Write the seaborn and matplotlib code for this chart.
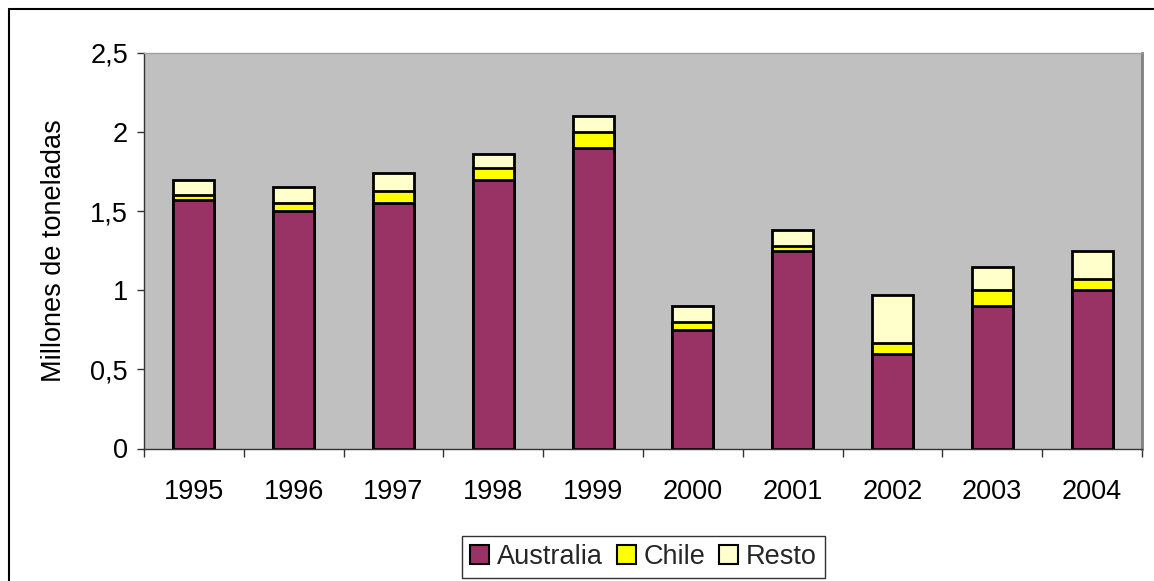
import matplotlib
matplotlib.use("Agg")
import matplotlib.pyplot as plt
from matplotlib.patches import Patch
from matplotlib.lines import Line2D
import numpy as np
import pandas as pd
import seaborn as sns

# Annual tonnage by origin (millions of tonnes)
years = ["1995", "1996", "1997", "1998", "1999", "2000", "2001", "2002", "2003", "2004"]
australia = [1.57, 1.50, 1.55, 1.70, 1.90, 0.75, 1.25, 0.60, 0.90, 1.00]
chile = [0.03, 0.05, 0.08, 0.07, 0.10, 0.05, 0.03, 0.065, 0.10, 0.07]
resto = [0.10, 0.10, 0.11, 0.09, 0.10, 0.10, 0.10, 0.305, 0.15, 0.18]

series_names = ["Australia", "Chile", "Resto"]
series_colors = ["#993366", "#FFFF00", "#FFFFCC"]
y_ticks = [0, 0.5, 1, 1.5, 2, 2.5]
y_tick_labels = ["0", "0,5", "1", "1,5", "2", "2,5"]

df = pd.DataFrame({"Año": years, "Australia": australia, "Chile": chile, "Resto": resto})
df["cum_aus"] = df["Australia"]
df["cum_chile"] = df["cum_aus"] + df["Chile"]
df["cum_resto"] = df["cum_chile"] + df["Resto"]

sns.set_theme(style="white")
plt.rcParams["font.family"] = ["Liberation Sans", "DejaVu Sans"]
FS = 19.5

fig = plt.figure(figsize=(11.54, 5.81), dpi=100)
ax = fig.add_axes([144 / 1154, 1 - 448.5 / 581, (1142 - 144) / 1154, (448.5 - 53) / 581])
ax.set_facecolor("#C0C0C0")

# Stacked bars: draw cumulative heights from the tallest down
for col, color in zip(["cum_resto", "cum_chile", "cum_aus"], series_colors[::-1]):
    sns.barplot(data=df, x="Año", y=col, color=color, width=0.41,
                edgecolor="black", linewidth=2.0, saturation=1, ax=ax, zorder=2)

ax.set_xlim(-0.5, len(years) - 0.5)
ax.set_ylim(0, 2.5)
ax.set_yticks(y_ticks)
ax.set_yticklabels(y_tick_labels)
ax.set_xlabel("")
ax.set_ylabel("Millones de toneladas", fontsize=FS, labelpad=17, color="black")

# Category ticks sit between the bars
ax.set_xticks(np.arange(len(years)))
ax.set_xticklabels(years)
ax.set_xticks(np.arange(-0.5, len(years)), minor=True)
ax.tick_params(axis="x", which="major", length=0, pad=22, labelsize=FS, labelcolor="black")
ax.tick_params(axis="x", which="minor", length=5.8, width=1, color="#333333", direction="out", bottom=True)
ax.tick_params(axis="y", which="major", length=5, width=1, color="#333333", direction="out",
               left=True, pad=6.5, labelsize=FS, labelcolor="black")

for side in ["left", "bottom"]:
    ax.spines[side].set_color("#333333")
    ax.spines[side].set_linewidth(1.0)
ax.spines["top"].set_color("#A0A0A0")
ax.spines["top"].set_linewidth(1.0)
ax.spines["right"].set_color("#808080")
ax.spines["right"].set_linewidth(2.0)

handles = [Patch(facecolor=c, edgecolor="black", linewidth=1.5, label=n)
           for n, c in zip(series_names, series_colors)]
leg = fig.legend(handles=handles, loc="center", bbox_to_anchor=(643.5 / 1154, 1 - 557 / 581),
                 ncol=3, frameon=True, fontsize=FS, handlelength=0.7, handleheight=0.7,
                 handletextpad=0.3, columnspacing=0.5, borderpad=0.3, borderaxespad=0,
                 fancybox=False)
leg.get_frame().set_edgecolor("black")
leg.get_frame().set_linewidth(1.0)

# Outer chart frame (top and left edges)
fig.add_artist(Line2D([8.5 / 1154, 1], [1 - 8.5 / 581, 1 - 8.5 / 581], transform=fig.transFigure,
                      color="black", linewidth=1.5))
fig.add_artist(Line2D([8.5 / 1154, 8.5 / 1154], [0, 1 - 8.5 / 581], transform=fig.transFigure,
                      color="black", linewidth=1.5))

fig.savefig("out.png", dpi=100, facecolor="white")
